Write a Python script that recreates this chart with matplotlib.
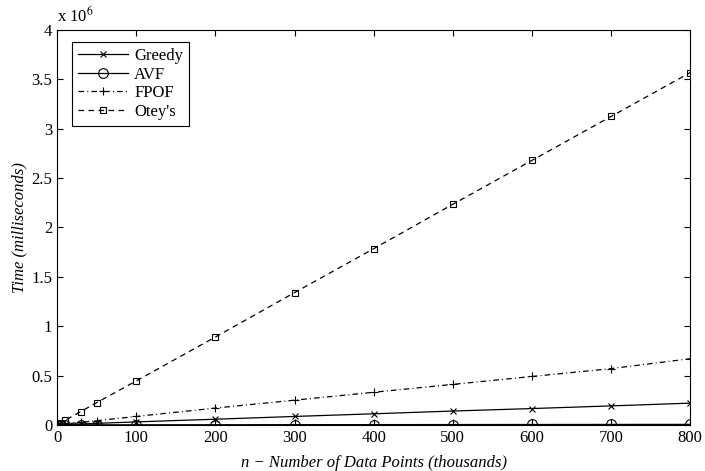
import numpy as np
import matplotlib
matplotlib.use('Agg')
import matplotlib.pyplot as plt

# data points (thousands of points) and times (x 10^6 ms)
n_points = [1, 5, 10, 30, 50, 100, 200, 300, 400, 500, 600, 700, 800]
greedy = [0.0003, 0.0015, 0.003, 0.009, 0.015, 0.03, 0.057, 0.085, 0.112, 0.14, 0.165, 0.192, 0.22]
avf = [0.0, 0.0, 0.0001, 0.0002, 0.0003, 0.0006, 0.0012, 0.0018, 0.0024, 0.003, 0.0036, 0.0042, 0.0048]
fpof = [0.001, 0.004, 0.008, 0.025, 0.042, 0.085, 0.17, 0.25, 0.33, 0.41, 0.49, 0.57, 0.67]
otey = [0.004, 0.022, 0.045, 0.135, 0.225, 0.445, 0.89, 1.34, 1.785, 2.235, 2.68, 3.125, 3.57]

x_ticks = [0, 100, 200, 300, 400, 500, 600, 700, 800]
y_ticks = [0, 0.5, 1, 1.5, 2, 2.5, 3, 3.5, 4]

plt.rcParams['font.family'] = ['Liberation Serif', 'DejaVu Serif']
plt.rcParams['mathtext.fontset'] = 'stix'

fig = plt.figure(figsize=(7.05, 4.71), dpi=100)
ax = fig.add_axes([0.081, 0.098, 0.898, 0.838])

ax.plot(n_points, greedy, 'k-', marker='x', ms=5, mew=0.8, lw=0.9, label='Greedy')
ax.plot(n_points, avf, 'k-', marker='o', ms=7, mfc='none', mew=0.8, lw=0.9, label='AVF')
ax.plot(n_points, fpof, color='k', dashes=(4.5, 2.5, 0.8, 2.5), marker='+', ms=6, mew=0.8, lw=0.9, label='FPOF')
ax.plot(n_points, otey, color='k', dashes=(4.5, 3.5), marker='s', ms=4, mfc='none', mew=0.8, lw=0.9, label="Otey's")

ax.set_xlim(0, 800)
ax.set_ylim(0, 4)
ax.set_xticks(x_ticks)
ax.set_xticklabels([str(t) for t in x_ticks])
ax.set_yticks(y_ticks)
ax.set_yticklabels(['%g' % t for t in y_ticks])
ax.tick_params(direction='in', top=True, right=True, labelsize=12, length=4, width=0.8)
for s in ax.spines.values():
    s.set_linewidth(0.8)

ax.set_xlabel('n \u2212 Number of Data Points (thousands)', style='italic', fontsize=12, labelpad=7)
ax.set_ylabel('Time (milliseconds)', style='italic', fontsize=12, labelpad=3)
ax.text(0.0, 1.01, r'x 10$^{6}$', transform=ax.transAxes, fontsize=12, ha='left', va='bottom')

leg = ax.legend(loc='upper left', fontsize=12, fancybox=False, framealpha=1,
                edgecolor='black', handlelength=3, handletextpad=0.4, borderpad=0.35,
                labelspacing=0.15, bbox_to_anchor=(0.01, 0.99))
leg.get_frame().set_linewidth(0.8)

fig.savefig('out.png', dpi=100)
